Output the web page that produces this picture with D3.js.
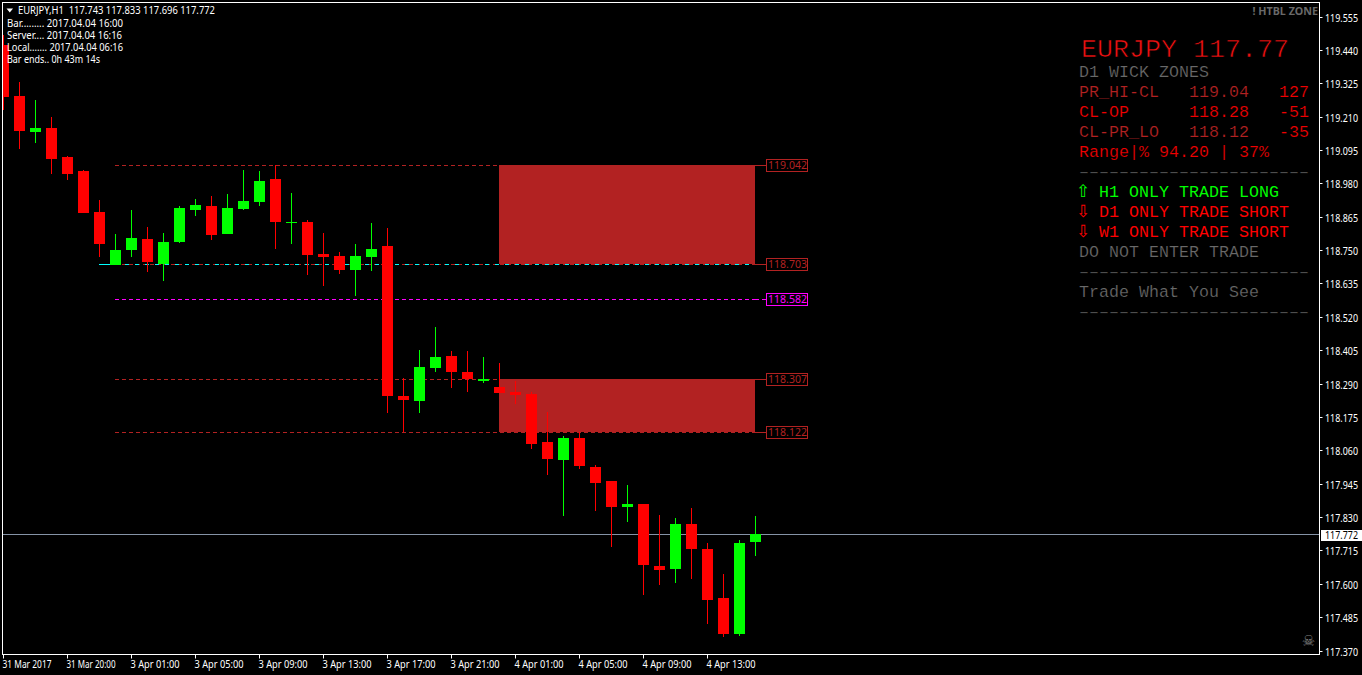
<!DOCTYPE html>
<html>
<head>
<meta charset="utf-8">
<script src="https://cdn.jsdelivr.net/npm/d3@7/dist/d3.min.js"></script>
<style>
html,body{margin:0;padding:0;background:#000;overflow:hidden}
svg{display:block}
text{white-space:pre}
</style>
</head>
<body>
<svg id="c" width="1362" height="675"></svg>
<script>
const opens =[119.457,119.281,119.157,119.171,119.071,119.023,118.881,118.699,118.751,118.788,118.702,118.778,118.888,118.902,118.806,118.892,118.916,118.995,118.844,118.847,118.737,118.730,118.682,118.726,118.764,118.247,118.230,118.344,118.385,118.330,118.299,118.278,118.261,118.254,118.089,118.027,118.103,118.003,117.955,117.865,117.875,117.662,117.651,117.806,117.720,117.551,117.427,117.743];
const highs =[119.491,119.329,119.267,119.209,119.074,119.026,118.923,118.806,118.888,118.830,118.809,118.902,118.926,118.937,118.944,119.026,119.023,119.042,118.947,118.854,118.809,118.744,118.771,118.844,118.826,118.309,118.406,118.485,118.402,118.402,118.382,118.361,118.299,118.261,118.192,118.110,118.123,118.010,117.955,117.941,117.875,117.837,117.827,117.861,117.741,117.634,117.751,117.833];
const lows  =[119.233,119.099,119.119,119.012,118.992,118.878,118.726,118.699,118.726,118.675,118.644,118.775,118.868,118.785,118.806,118.888,118.902,118.754,118.771,118.664,118.626,118.668,118.592,118.678,118.189,118.122,118.189,118.330,118.275,118.261,118.292,118.258,118.220,118.065,117.975,117.834,117.996,117.851,117.727,117.813,117.562,117.596,117.603,117.617,117.462,117.417,117.420,117.696];
const closes=[119.278,119.161,119.171,119.064,119.012,118.878,118.771,118.751,118.792,118.709,118.778,118.895,118.906,118.802,118.895,118.919,118.988,118.847,118.847,118.733,118.726,118.682,118.730,118.754,118.247,118.234,118.347,118.382,118.330,118.306,118.306,118.258,118.251,118.082,118.030,118.103,118.006,117.948,117.865,117.875,117.665,117.648,117.806,117.720,117.544,117.427,117.740,117.772];

const priceTicks=[119.555,119.440,119.325,119.210,119.095,118.980,118.865,118.750,118.635,118.520,118.405,118.290,118.175,118.060,117.945,117.830,117.715,117.600,117.485,117.370];
const timeTickBars=[0,4,8,12,16,20,24,28,32,36,40,44];
const timeTickLabels=["31 Mar 2017","31 Mar 20:00","3 Apr 01:00","3 Apr 05:00","3 Apr 09:00","3 Apr 13:00","3 Apr 17:00","3 Apr 21:00","4 Apr 01:00","4 Apr 05:00","4 Apr 09:00","4 Apr 13:00"];

const levelPrices=[119.042,118.703,118.582,118.307,118.122];
const zoneTops=[119.042,118.307];
const zoneBottoms=[118.703,118.122];
const zoneStartBar=31, zoneEndBar=47;
const lastPrice=117.772;

const infoLines=["Bar......... 2017.04.04 16:00","Server.... 2017.04.04 16:16","Local....... 2017.04.04 06:16","Bar ends.. 0h 43m 14s"];
const infoWidths=[116,115,116,93];
const zoneNames=["PR_HI-CL","CL-OP","CL-PR_LO"];
const zoneLevels=["119.04","118.28","118.12"];
const zonePips=["127","-51","-35"];
const signalText=["H1 ONLY TRADE LONG","D1 ONLY TRADE SHORT","W1 ONLY TRADE SHORT"];
const signalArrow=["\u21E7","\u21E9","\u21E9"];

const UP="#00ff00",DOWN="#ff0000",FIRE="#b22222",DIM="#696969",MAG="#ff00ff",CYAN="#00ffff",AXIS="#ffffff";
const TAHOMA="'Noto Sans','Liberation Sans',sans-serif", MONO="'Liberation Mono',monospace";

const svg=d3.select("#c");
const L=2.5,T=2.5,R=1319.5,B=654.5;
svg.append("rect").attr("width",1362).attr("height",675).attr("fill","#000");

const x=d3.scaleLinear().domain([0,47]).range([3,755]);
const y=d3.scaleLinear().domain([117.37,119.555]).range([650.7,16.6]);
const row=p=>Math.round(y(p)-0.01);

svg.append("defs").append("clipPath").attr("id","plot").append("rect").attr("x",3).attr("y",3).attr("width",1316).attr("height",651);
const plot=svg.append("g").attr("clip-path","url(#plot)");

// zones
plot.selectAll("rect.zone").data(zoneTops).join("rect").attr("class","zone")
  .attr("x",x(zoneStartBar)).attr("width",x(zoneEndBar)-x(zoneStartBar))
  .attr("y",d=>row(d)).attr("height",(d,i)=>row(zoneBottoms[i])-row(d))
  .attr("fill",FIRE);

// level lines
const levelColor=(d,i)=>i===2?MAG:FIRE;
const lv=plot.selectAll("g.level").data(levelPrices).join("g").attr("class","level");
lv.append("line").attr("x1",115).attr("x2",755)
  .attr("y1",d=>row(d)+0.5).attr("y2",d=>row(d)+0.5)
  .attr("stroke",levelColor).attr("stroke-dasharray","4 3");
lv.append("line").attr("x1",755).attr("x2",766).attr("y1",d=>row(d)+0.5).attr("y2",d=>row(d)+0.5)
  .attr("stroke",levelColor).attr("stroke-dasharray",(d,i)=>i===2?"4 3":null);

// cyan daily-open line, sharing its price with the firebrick level
const cy=row(levelPrices[1])+0.5;
plot.append("line").attr("x1",x(6)).attr("x2",115).attr("y1",cy).attr("y2",cy).attr("stroke",CYAN);
plot.append("line").attr("x1",115).attr("x2",755).attr("y1",cy).attr("y2",cy).attr("stroke",CYAN).attr("stroke-dasharray","4 6");

// level tag boxes
const tag=svg.selectAll("g.tag").data(levelPrices).join("g").attr("class","tag");
tag.append("rect").attr("x",766.5).attr("y",d=>row(d)-5.5).attr("width",41).attr("height",12)
  .attr("fill","#000").attr("stroke",levelColor);
tag.append("text").attr("x",768).attr("y",d=>row(d)+4).attr("font-family",TAHOMA).attr("font-size",11)
  .attr("textLength",39).attr("lengthAdjust","spacingAndGlyphs")
  .attr("fill",levelColor).text(d=>d.toFixed(3));

// last price line
const lastRow=row(lastPrice);
plot.append("line").attr("x1",3).attr("x2",1319).attr("y1",lastRow+0.5).attr("y2",lastRow+0.5).attr("stroke","#8593a6");

// candles
const idx=d3.range(opens.length);
const candles=plot.selectAll("g.candle").data(idx).join("g").attr("class","candle")
  .attr("fill",i=>closes[i]>=opens[i]?UP:DOWN);
candles.append("rect").attr("x",i=>x(i)).attr("width",1)
  .attr("y",i=>Math.round(y(highs[i]))).attr("height",i=>Math.round(y(lows[i]))-Math.round(y(highs[i])));
candles.append("rect").attr("x",i=>x(i)-5).attr("width",11)
  .attr("y",i=>Math.round(y(Math.max(opens[i],closes[i]))))
  .attr("height",i=>Math.max(1,Math.round(y(Math.min(opens[i],closes[i])))-Math.round(y(Math.max(opens[i],closes[i])))));

// frame
svg.append("rect").attr("x",L).attr("y",T).attr("width",R-L).attr("height",B-T).attr("fill","none").attr("stroke",AXIS);

// price axis
const yAxis=d3.axisRight(y).tickValues(priceTicks).tickSize(4).tickSizeOuter(0).tickFormat(d3.format(".3f"));
const gy=svg.append("g").attr("transform",`translate(${R},0)`).call(yAxis);
gy.select(".domain").remove();
gy.selectAll(".tick").attr("transform",d=>`translate(0,${Math.floor(y(d)+0.4)+0.5})`);
gy.selectAll(".tick line").attr("stroke",AXIS).attr("x1",0).attr("x2",3);
gy.selectAll(".tick text").attr("x",0).attr("dy",null).attr("y",0).attr("transform","translate(5.5,4) scale(.85,1)")
  .attr("fill",AXIS).attr("font-family",TAHOMA).attr("font-size",10.5);

// time axis
const xAxis=d3.axisBottom(x).tickValues(timeTickBars).tickSize(4).tickSizeOuter(0).tickFormat((d,i)=>timeTickLabels[i]);
const gx=svg.append("g").attr("transform",`translate(0,${B})`).call(xAxis);
gx.select(".domain").remove();
gx.selectAll(".tick line").attr("stroke",AXIS);
gx.selectAll(".tick text").attr("text-anchor","start").attr("x",-1).attr("y",13).attr("dy",null).attr("fill",AXIS)
  .attr("font-family",TAHOMA).attr("font-size",10.5)
  .attr("textLength",49).attr("lengthAdjust","spacingAndGlyphs");

// current price tag
svg.append("rect").attr("x",1321).attr("y",lastRow-4).attr("width",41).attr("height",11).attr("fill","#fff");
svg.append("text").attr("transform",`translate(1325,${lastRow+5}) scale(.85,1)`).attr("fill","#000").attr("font-family",TAHOMA).attr("font-size",10.5)
  .text(lastPrice.toFixed(3));

// header
svg.append("path").attr("d",d3.line()([[6.5,8.5],[13,8.5],[9.75,12.5]])+"Z").attr("fill","#fff");
svg.append("text").attr("x",18).attr("y",14).attr("fill","#fff").attr("font-family",TAHOMA).attr("font-size",10.5)
  .attr("textLength",197).attr("lengthAdjust","spacingAndGlyphs").text("EURJPY,H1  117.743 117.833 117.696 117.772");
svg.selectAll("text.info").data(infoLines).join("text").attr("class","info")
  .attr("x",7).attr("y",(d,i)=>27+12*i).attr("fill","#fff").attr("font-family",TAHOMA).attr("font-size",10.5)
  .attr("textLength",(d,i)=>infoWidths[i]).attr("lengthAdjust","spacingAndGlyphs").text(d=>d);

// top right tag + skull
svg.append("text").attr("x",1252.5).attr("y",15).attr("fill",DIM).attr("font-family",TAHOMA).attr("font-weight",700).attr("font-size",10.5)
  .attr("textLength",65.5).attr("lengthAdjust","spacingAndGlyphs").text("! HTBL ZONE");
svg.append("text").attr("x",1308.5).attr("y",646).attr("text-anchor","middle").attr("fill","#808080").attr("font-family","'DejaVu Sans'").attr("font-size",15).text("\u2620");

// right panel
const px=1079, rowH=20, base=77;
const mono=(s,col,xx,yy,size,thin)=>svg.append("text").attr("x",xx).attr("y",yy).attr("fill",col)
  .attr("font-family",MONO).attr("font-size",size||16.667)
  .attr("stroke","#000").attr("stroke-width",thin||0.2).text(s);
mono("EURJPY 117.77","#f01010",1081,57,26.667,0.6);
mono("D1 WICK ZONES",DIM,px,base);
zoneNames.forEach((n,i)=>{
  const col=i===1?"#f00000":FIRE, yy=base+rowH*(i+1);
  mono(n,col,px,yy);
  mono(zoneLevels[i],col,px+110,yy);
  mono(zonePips[i],"#f00000",px+200,yy);
});
mono("Range|% 94.20 | 37%","#f00000",px,base+rowH*4);
const rule="\u2013".repeat(23);
mono(rule,DIM,px,base+rowH*5);
signalText.forEach((s,i)=>{
  const col=i===0?UP:DOWN, yy=base+rowH*(6+i);
  svg.append("text").attr("x",1076).attr("y",yy).attr("fill",col).attr("font-family","'DejaVu Sans'").attr("font-size",17).text(signalArrow[i]);
  mono(s,col,px+20,yy,16.667,0.05);
});
mono("DO NOT ENTER TRADE",DIM,px,base+rowH*9);
mono(rule,DIM,px,base+rowH*10);
mono("Trade What You See",DIM,px,base+rowH*11);
mono(rule,DIM,px,base+rowH*12);
</script>
</body>
</html>
